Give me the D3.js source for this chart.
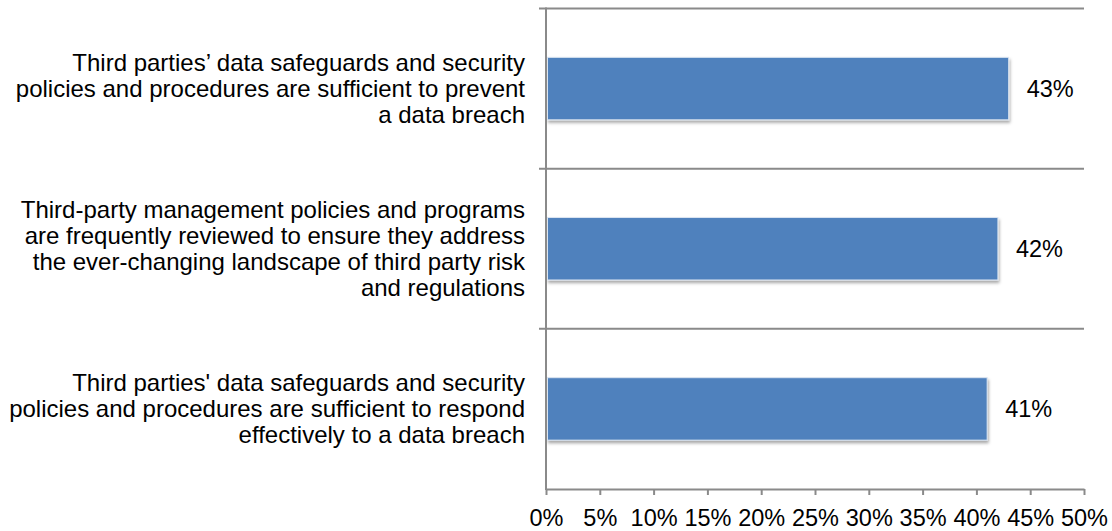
<!DOCTYPE html>
<html>
<head>
<meta charset="utf-8">
<script src="https://cdn.jsdelivr.net/npm/d3@7"></script>
<style>
  html, body { margin: 0; padding: 0; background: #fff; }
  svg { display: block; font-family: "Liberation Sans", Arial, sans-serif; }
</style>
</head>
<body>
<svg id="chart" width="1112" height="531"></svg>
<script>
// Survey statements (each entry is the wrapped lines of one label)
const categories = [
  ["Third parties\u2019 data safeguards and security", "policies and procedures are sufficient to prevent", "a data breach"],
  ["Third-party management policies and programs", "are frequently reviewed to ensure they address", "the ever-changing landscape of third party risk", "and regulations"],
  ["Third parties' data safeguards and security", "policies and procedures are sufficient to respond", "effectively to a data breach"]
];
const values = [43, 42, 41];
const xTicks = [0, 5, 10, 15, 20, 25, 30, 35, 40, 45, 50];

const svg = d3.select("#chart");
const plot = { left: 546, right: 1084, top: 8.5, bottom: 489 };
const gridColor = "#8a8a8a";
const fontSize = 23.5;
const labelSize = 24;

const x = d3.scaleLinear().domain([0, 50]).range([plot.left, plot.right]);
const y = d3.scaleBand().domain(d3.range(categories.length)).range([plot.top, plot.bottom]).padding(0);
const barH = y.bandwidth() * 0.39;

// soft shadow under the bars
const defs = svg.append("defs");
const f = defs.append("filter").attr("id", "shadow").attr("x", "-5%").attr("y", "-20%").attr("width", "110%").attr("height", "150%");
f.append("feDropShadow").attr("dx", 1).attr("dy", 2.5).attr("stdDeviation", 1.6).attr("flood-color", "#000").attr("flood-opacity", 0.35);

// category separators (with short ticks left of the axis)
const bounds = categories.map((d, i) => y(i)).concat([plot.bottom]);
svg.append("g").selectAll("line").data(bounds.slice(0, -1)).join("line")
  .attr("x1", plot.left - 7).attr("x2", plot.right)
  .attr("y1", d => d).attr("y2", d => d)
  .attr("stroke", gridColor).attr("stroke-width", 2);

// bars
svg.append("g").selectAll("rect").data(values).join("rect")
  .attr("x", x(0) + 1.5)
  .attr("y", (d, i) => y(i) + (y.bandwidth() - barH) / 2)
  .attr("width", d => x(d) - x(0) - 1.5)
  .attr("height", barH)
  .attr("fill", "#4f81bd")
  .attr("stroke", "#dbe5f1").attr("stroke-width", 1)
  .attr("filter", "url(#shadow)");

// value labels
svg.append("g").selectAll("text").data(values).join("text")
  .attr("x", d => x(d) + 18)
  .attr("y", (d, i) => y(i) + y.bandwidth() / 2)
  .attr("dy", "0.36em")
  .attr("font-size", fontSize)
  .attr("fill", "#000")
  .text(d => d + "%");

// category labels, right-aligned and vertically centred on each band
const lineH = 26;
const lab = svg.append("g").selectAll("text").data(categories).join("text")
  .attr("text-anchor", "end")
  .attr("font-size", labelSize)
  .attr("fill", "#000");
lab.each(function (lines, i) {
  const cy = y(i) + y.bandwidth() / 2;
  const t = d3.select(this);
  lines.forEach((ln, k) => {
    t.append("tspan")
      .attr("x", 525)
      .attr("y", cy + (k - (lines.length - 1) / 2) * lineH)
      .attr("dy", "0.34em")
      .text(ln);
  });
});

// vertical axis line
svg.append("line")
  .attr("x1", plot.left).attr("x2", plot.left)
  .attr("y1", plot.top - 1).attr("y2", plot.bottom + 1)
  .attr("stroke", gridColor).attr("stroke-width", 2);

// x axis
const xAxis = svg.append("g")
  .attr("transform", `translate(0,${plot.bottom})`)
  .call(d3.axisBottom(x).tickValues(xTicks).tickSize(6).tickSizeOuter(0).tickPadding(14).tickFormat(d => d + "%"));
xAxis.select(".domain").attr("stroke", gridColor).attr("stroke-width", 2);
xAxis.selectAll(".tick line").attr("stroke", gridColor).attr("stroke-width", 2);
xAxis.selectAll(".tick text")
  .attr("font-size", fontSize)
  .attr("font-family", "'Liberation Sans', Arial, sans-serif")
  .attr("fill", "#000");
</script>
</body>
</html>
